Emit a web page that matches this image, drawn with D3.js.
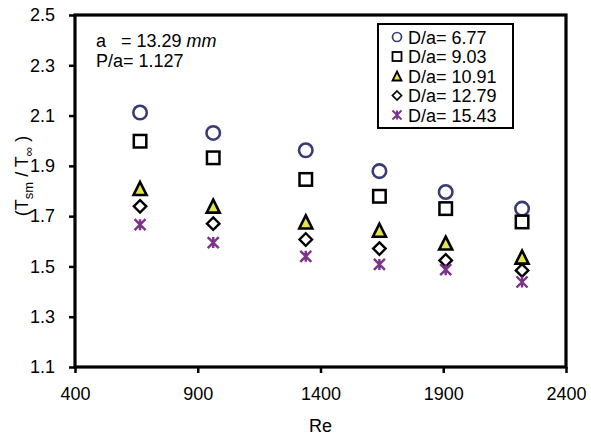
<!DOCTYPE html>
<html>
<head>
<meta charset="utf-8">
<script src="https://cdn.jsdelivr.net/npm/d3@7"></script>
<style>
  html, body { margin: 0; padding: 0; background: #fff; }
  svg text { font-family: "Liberation Sans", Arial, sans-serif; fill: #000; }
</style>
</head>
<body>
<svg id="chart" width="591" height="435"></svg>
<script>
// Reynolds numbers of the measurement runs
const reValues = [665, 963, 1340, 1640, 1910, 2221];

// Series labels (diameter-to-gap ratio)
const seriesNames = ["D/a= 6.77", "D/a= 9.03", "D/a= 10.91", "D/a= 12.79", "D/a= 15.43"];

// Temperature ratio (T_sm / T_inf) per series
const ratioDa677  = [2.112, 2.031, 1.962, 1.879, 1.796, 1.730];
const ratioDa903  = [1.998, 1.932, 1.846, 1.779, 1.730, 1.677];
const ratioDa1091 = [1.810, 1.740, 1.677, 1.644, 1.593, 1.537];
const ratioDa1279 = [1.739, 1.670, 1.607, 1.571, 1.524, 1.484];
const ratioDa1543 = [1.666, 1.595, 1.540, 1.508, 1.487, 1.438];

const xTicks = [400, 900, 1400, 1900, 2400];
const yTicks = [1.1, 1.3, 1.5, 1.7, 1.9, 2.1, 2.3, 2.5];

const seriesValues = [ratioDa677, ratioDa903, ratioDa1091, ratioDa1279, ratioDa1543];
const markerTypes = ["circle", "square", "triangle", "diamond", "star"];

const svg = d3.select("#chart");
const plot = { left: 75, right: 566, top: 15, bottom: 367 };

const x = d3.scaleLinear().domain([400, 2400]).range([plot.left, plot.right]);
const y = d3.scaleLinear().domain([1.1, 2.5]).range([plot.bottom, plot.top]);

// Axes with outward ticks
const xAxis = svg.append("g")
  .attr("transform", `translate(0,${plot.bottom})`)
  .call(d3.axisBottom(x).tickValues(xTicks).tickSize(6).tickPadding(11).tickFormat(d3.format("d")));
const yAxis = svg.append("g")
  .attr("transform", `translate(${plot.left},0)`)
  .call(d3.axisLeft(y).tickValues(yTicks).tickSize(6).tickPadding(14).tickFormat(d3.format(".1f")));

[xAxis, yAxis].forEach(g => {
  g.select(".domain").remove();
  g.selectAll(".tick line").attr("stroke", "#000").attr("stroke-width", 2.5);
  g.selectAll(".tick text").attr("font-size", 18).attr("fill", "#000")
    .style("font-family", "'Liberation Sans', Arial, sans-serif");
});
xAxis.selectAll(".tick text").attr("dy", "0.9em");

// Plot frame
svg.append("rect")
  .attr("x", plot.left).attr("y", plot.top)
  .attr("width", plot.right - plot.left).attr("height", plot.bottom - plot.top)
  .attr("fill", "none").attr("stroke", "#000").attr("stroke-width", 3.2);

// Marker drawing helper
function drawMarker(g, type, cx, cy, s) {
  const h = s / 2;
  if (type === "circle") {
    g.append("circle").attr("cx", cx).attr("cy", cy).attr("r", h)
      .attr("fill", "#fff").attr("stroke", "#383b74").attr("stroke-width", s * 0.19);
  } else if (type === "square") {
    g.append("rect").attr("x", cx - h).attr("y", cy - h).attr("width", s).attr("height", s)
      .attr("fill", "#fff").attr("stroke", "#000").attr("stroke-width", s * 0.2);
  } else if (type === "triangle") {
    g.append("path")
      .attr("d", `M${cx},${cy - h}L${cx + h},${cy + h}L${cx - h},${cy + h}Z`)
      .attr("fill", "#e4e44a").attr("stroke", "#000").attr("stroke-width", s * 0.2)
      .attr("stroke-linejoin", "miter");
  } else if (type === "diamond") {
    g.append("path")
      .attr("d", `M${cx},${cy - h}L${cx + h},${cy}L${cx},${cy + h}L${cx - h},${cy}Z`)
      .attr("fill", "#fff").attr("stroke", "#000").attr("stroke-width", s * 0.19);
  } else if (type === "star") {
    g.append("path")
      .attr("d", `M${cx - h},${cy - h}L${cx + h},${cy + h}M${cx + h},${cy - h}L${cx - h},${cy + h}M${cx},${cy - h}L${cx},${cy + h}`)
      .attr("fill", "none").attr("stroke", "#7a3388").attr("stroke-width", s * 0.22);
  }
}

// Data points
const markerSizes = { circle: 13.5, square: 12.5, triangle: 13, diamond: 12.5, star: 11 };
const points = svg.append("g");
seriesValues.forEach((vals, si) => {
  const type = markerTypes[si];
  vals.forEach((v, i) => {
    drawMarker(points, type, x(reValues[i]), y(v), markerSizes[type]);
  });
});

// Axis titles
svg.append("text")
  .attr("x", (plot.left + plot.right) / 2).attr("y", 432)
  .attr("text-anchor", "middle").attr("font-size", 18).text("Re");

const yTitle = svg.append("text")
  .attr("transform", "translate(28,176) rotate(-90)")
  .attr("text-anchor", "middle").attr("font-size", 18);
yTitle.append("tspan").text("(T");
yTitle.append("tspan").attr("font-size", 13).attr("dy", 5).text("sm");
yTitle.append("tspan").attr("dy", -5).text(" / T");
yTitle.append("tspan").attr("font-size", 13).attr("dy", 5).text("\u221E");
yTitle.append("tspan").attr("dy", -5).text(" )");

// Geometry annotation
const note = svg.append("g").style("white-space", "pre");
const line1 = note.append("text").attr("x", 96).attr("y", 47).attr("font-size", 18)
  .attr("xml:space", "preserve");
line1.append("tspan").text("a   = 13.29 ");
line1.append("tspan").attr("font-style", "italic").text("mm");
note.append("text").attr("x", 96).attr("y", 67).attr("font-size", 18).text("P/a= 1.127");

// Legend
const legend = svg.append("g");
legend.append("rect")
  .attr("x", 378).attr("y", 24).attr("width", 135).attr("height", 104)
  .attr("fill", "#fff").attr("stroke", "#000").attr("stroke-width", 2);
seriesNames.forEach((name, i) => {
  const base = 43.5 + i * 19.5;
  drawMarker(legend, markerTypes[i], 397, base - 6.5, 9);
  legend.append("text").attr("x", 408).attr("y", base).attr("font-size", 18).text(name);
});
</script>
</body>
</html>
